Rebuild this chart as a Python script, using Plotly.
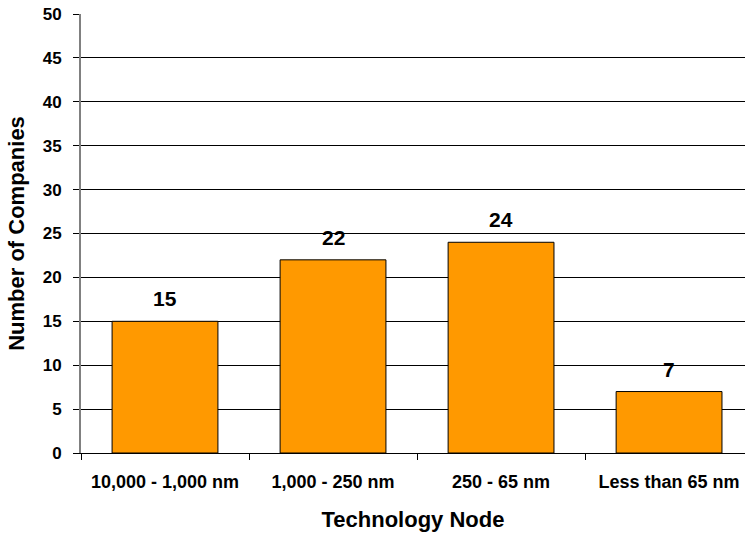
import plotly.graph_objects as go

categories = ["10,000 - 1,000 nm", "1,000 - 250 nm", "250 - 65 nm", "Less than 65 nm"]
companies = [15, 22, 24, 7]
y_ticks = [0, 5, 10, 15, 20, 25, 30, 35, 40, 45, 50]

FONT = "Liberation Sans, Arial, Helvetica, sans-serif"
x_pos = list(range(len(categories)))

fig = go.Figure(
    go.Bar(
        x=x_pos,
        y=companies,
        width=0.63,
        marker=dict(color="#FF9900", line=dict(color="#000000", width=1)),
        hoverinfo="skip",
    )
)

for xi, v in zip(x_pos, companies):
    fig.add_annotation(
        x=xi, y=v, text=str(v), showarrow=False,
        yanchor="bottom", yshift=9,
        font=dict(family=FONT, size=21, color="#000000", weight="bold"),
    )

fig.update_layout(
    width=745, height=535,
    margin=dict(l=81, r=0, t=14, b=82),
    plot_bgcolor="#FFFFFF", paper_bgcolor="#FFFFFF",
    showlegend=False,
    font=dict(family=FONT, color="#000000", weight="bold"),
    xaxis=dict(
        range=[-0.5, 3.452],
        tickvals=x_pos, ticktext=categories,
        ticks="", showgrid=False,
        showline=True, linecolor="#000000", linewidth=1,
        tickfont=dict(family=FONT, size=18, weight="bold"),
        ticklabelstandoff=12,
        minor=dict(tickvals=[-0.5, 0.5, 1.5, 2.5], ticks="outside", ticklen=6,
                   tickcolor="#000000", tickwidth=1, showgrid=False),
        title=dict(text="Technology Node", font=dict(family=FONT, size=22, weight="bold"), standoff=21),
        automargin=False,
    ),
    yaxis=dict(
        range=[0, 50], tickvals=y_ticks,
        ticks="outside", ticklen=6, tickcolor="#000000", tickwidth=1,
        showgrid=True, gridcolor="#000000", gridwidth=1,
        showline=True, linecolor="#808080", linewidth=2,
        zeroline=False,
        tickfont=dict(family=FONT, size=17, weight="bold"),
        ticklabelstandoff=8,
        title=dict(text="Number of Companies", font=dict(family=FONT, size=22, weight="bold"), standoff=12),
        automargin=False,
    ),
)

fig.write_html(
    "out.html",
    config={"displayModeBar": False, "staticPlot": True},
    post_script="document.body.style.margin='0';document.body.style.overflow='hidden';",
)
